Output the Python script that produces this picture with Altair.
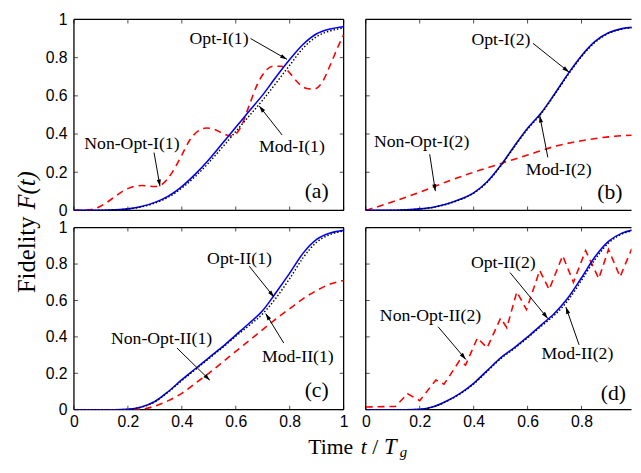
import math
import altair as alt
import pandas as pd

# ---------------- data ----------------
T = [0, 0.05, 0.1, 0.15, 0.2, 0.25, 0.3, 0.35, 0.4, 0.45, 0.5,
     0.55, 0.6, 0.65, 0.7, 0.75, 0.8, 0.85, 0.9, 0.95, 1.0]

a_opt = [0, 0, 0.001, 0.003, 0.008, 0.02, 0.042, 0.075, 0.125, 0.19, 0.265,
         0.35, 0.435, 0.52, 0.605, 0.70, 0.79, 0.87, 0.925, 0.95, 0.962]
a_mod = [0, 0, 0.001, 0.003, 0.007, 0.018, 0.038, 0.069, 0.117, 0.178, 0.25,
         0.33, 0.413, 0.495, 0.578, 0.668, 0.76, 0.85, 0.91, 0.94, 0.955]
a_non_t = [0, .05, .08, .12, .15, .18, .21, .25, .3, .33, .36, .4, .43, .46, .49, .52,
           .55, .58, .6, .62, .65, .68, .71, .74, .77, .8, .83, .86, .89, .92, .95, .98, 1]
a_non = [0, .002, .01, .04, .07, .1, .12, .13, .125, .14, .19, .29, .37, .415, .432, .425,
         .405, .39, .40, .44, .55, .66, .73, .755, .755, .72, .67, .64, .635, .67, .76, .86, .92]

b_opt = [0, 0, 0.001, 0.003, 0.008, 0.017, 0.034, 0.058, 0.092, 0.15, 0.235,
         0.335, 0.43, 0.51, 0.61, 0.715, 0.81, 0.885, 0.93, 0.952, 0.96]
b_mod = [0, 0, 0.001, 0.003, 0.007, 0.016, 0.032, 0.056, 0.09, 0.147, 0.231,
         0.33, 0.425, 0.505, 0.605, 0.71, 0.805, 0.88, 0.927, 0.95, 0.958]
b_non_t = [0, .1, .2, .3, .4, .5, .6, .7, .8, .9, 1]
b_non = [0, .045, .095, .15, .2, .245, .29, .335, .365, .385, .395]

c_opt = [0, 0, 0, 0, 0.002, 0.015, 0.045, 0.1, 0.165, 0.225, 0.285,
         0.345, 0.41, 0.475, 0.545, 0.645, 0.75, 0.86, 0.935, 0.97, 0.985]
c_mod = [0, 0, 0, 0, 0.002, 0.014, 0.043, 0.097, 0.16, 0.22, 0.28,
         0.34, 0.403, 0.463, 0.527, 0.615, 0.72, 0.835, 0.92, 0.962, 0.982]
c_non = [0, 0, 0, 0, 0, 0.003, 0.02, 0.05, 0.09, 0.145, 0.2,
         0.26, 0.32, 0.38, 0.44, 0.5, 0.555, 0.61, 0.655, 0.69, 0.71]

d_opt = [0, 0, 0, 0, 0.002, 0.016, 0.048, 0.09, 0.145, 0.215, 0.285,
         0.34, 0.4, 0.465, 0.53, 0.615, 0.725, 0.84, 0.925, 0.97, 0.99]
d_mod = [0, 0, 0, 0, 0.002, 0.015, 0.046, 0.087, 0.141, 0.21, 0.28,
         0.335, 0.395, 0.458, 0.52, 0.6, 0.71, 0.825, 0.915, 0.965, 0.985]
d_non_t = [0, .11, .155, .2, .26, .29, .347, .37, .414, .45, .5, .523,
           .56, .596, .645, .68, .73, .77, .815, .864, .9, .943, .985, 1]
d_non = [.015, .018, .088, .05, .163, .14, .268, .245, .394, .34, .503, .45,
         .647, .55, .765, .66, .846, .70, .874, .72, .88, .73, .88, .86]

tick_vals = [0, 0.2, 0.4, 0.6, 0.8, 1.0]

# annotations: label, text x/y, arrow tail x/y, arrow tip x/y (data units)
ann_a = [("Opt-I(1)", 0.538, 0.896, 0.655, 0.90, 0.790, 0.791),
         ("Mod-I(1)", 0.808, 0.333, 0.772, 0.395, 0.687, 0.547),
         ("Non-Opt-I(1)", 0.215, 0.348, 0.297, 0.303, 0.319, 0.126)]
ann_b = [("Opt-I(2)", 0.501, 0.894, 0.620, 0.875, 0.754, 0.724),
         ("Mod-I(2)", 0.715, 0.212, 0.675, 0.278, 0.645, 0.496),
         ("Non-Opt-I(2)", 0.207, 0.359, 0.237, 0.294, 0.258, 0.101)]
ann_c = [("Opt-II(1)", 0.614, 0.827, 0.650, 0.788, 0.742, 0.618),
         ("Mod-II(1)", 0.830, 0.290, 0.778, 0.366, 0.711, 0.528),
         ("Non-Opt-II(1)", 0.325, 0.387, 0.382, 0.339, 0.504, 0.162)]
ann_d = [("Opt-II(2)", 0.510, 0.807, 0.535, 0.753, 0.675, 0.501),
         ("Mod-II(2)", 0.785, 0.306, 0.791, 0.356, 0.742, 0.564),
         ("Non-Opt-II(2)", 0.240, 0.517, 0.268, 0.456, 0.371, 0.276)]

letters = {"a": ("(a)", 0.90, 0.10), "b": ("(b)", 0.905, 0.096),
           "c": ("(c)", 0.90, 0.106), "d": ("(d)", 0.918, 0.090)}

# ---------------- layout ----------------
W = 274
W_R = 270
H_TOP = 194
H_BOT = 185
ARROW = "M0,0 L0.3,1 L-0.3,1 Z"
SERIF = "Liberation Serif"
SANS = "Liberation Sans"


def panel(key, opt, mod, non_t, non, ann, width, height, show_x, show_y,
          interp_non="monotone", extra=None):
    xmax = width / W
    xs = alt.Scale(domain=[0, xmax], nice=False, zero=False)
    ys = alt.Scale(domain=[0, 1], nice=False, zero=False)
    if show_x:
        xaxis = alt.Axis(values=tick_vals, format="~g", ticks=False, domain=False,
                         grid=False, labelFont=SANS, labelFontSize=16,
                         labelColor="black", labelPadding=4, labelFlush=False,
                         labelOverlap=False, title=None)
    else:
        xaxis = None
    if show_y:
        yaxis = alt.Axis(values=tick_vals, format="~g", ticks=False, domain=False,
                         grid=False, labelFont=SANS, labelFontSize=16,
                         labelColor="black", labelPadding=7, labelFlush=False,
                         labelOverlap=False, title=None)
    else:
        yaxis = None
    X = alt.X("x:Q", scale=xs, axis=xaxis)
    Y = alt.Y("y:Q", scale=ys, axis=yaxis)

    df_opt = pd.DataFrame({"x": T, "y": opt})
    df_mod = pd.DataFrame({"x": T, "y": mod})
    df_non = pd.DataFrame({"x": non_t, "y": non})

    full = xmax >= 0.999
    # frame
    fx = [0, 0, 0]
    fx2 = [xmax, xmax, 0]
    fy = [0, 1, 0]
    fy2 = [0, 1, 1]
    if full:
        fx.append(1); fx2.append(1); fy.append(0); fy2.append(1)
    frame = alt.Chart(pd.DataFrame({"x": fx, "x2": fx2, "y": fy, "y2": fy2})).mark_rule(
        color="black", strokeWidth=1.3).encode(x=X, x2="x2:Q", y=Y, y2="y2:Q")

    xt = pd.DataFrame({"x": [v for v in tick_vals if v <= xmax + 1e-9]})
    yt = pd.DataFrame({"y": tick_vals})
    tb = alt.Chart(xt).mark_tick(orient="vertical", size=4, thickness=1, color="black").encode(
        x=X, y=alt.value(height - 2))
    tt = alt.Chart(xt).mark_tick(orient="vertical", size=4, thickness=1, color="black").encode(
        x=X, y=alt.value(2))
    tl = alt.Chart(yt).mark_tick(orient="horizontal", size=4, thickness=1, color="black").encode(
        y=Y, x=alt.value(2))
    layers = [frame, tb, tt, tl]
    if full:
        tr = alt.Chart(yt).mark_tick(orient="horizontal", size=4, thickness=1, color="black").encode(
            y=Y, x=alt.value(width - 2))
        layers.append(tr)

    red = alt.Chart(df_non).mark_line(color="#ff0000", strokeDash=[7, 5], strokeWidth=1.6,
                                      clip=True, interpolate=interp_non).encode(x=X, y=Y)
    blue = alt.Chart(df_opt).mark_line(color="#0000ff", strokeWidth=1.6, clip=True,
                                       interpolate="monotone").encode(x=X, y=Y)
    black = alt.Chart(df_mod).mark_line(color="black", strokeDash=[1.5, 2], strokeWidth=1.4,
                                        clip=True, interpolate="monotone").encode(x=X, y=Y)
    layers += [red, blue, black]

    rows = []
    for lab, tx, ty, ax, ay, px, py in ann:
        dxp = (px - ax) * W
        dyp = -(py - ay) * height
        ang = math.degrees(math.atan2(dxp, -dyp)) % 360
        rows.append({"lab": lab, "tx": tx, "ty": ty, "x": ax, "y": ay,
                     "x2": px, "y2": py, "ang": ang})
    adf = pd.DataFrame(rows)
    arrows = alt.Chart(adf).mark_rule(color="black", strokeWidth=1).encode(
        x=X, y=Y, x2="x2:Q", y2="y2:Q")
    heads = alt.Chart(adf).mark_point(shape=ARROW, filled=True, color="black", opacity=1,
                                      size=196, strokeWidth=0).encode(
        x=alt.X("x2:Q", scale=xs, axis=xaxis), y=alt.Y("y2:Q", scale=ys, axis=yaxis),
        angle=alt.Angle("ang:Q", scale=None))
    texts = alt.Chart(adf).mark_text(font=SERIF, fontSize=18, color="black").encode(
        x=alt.X("tx:Q", scale=xs, axis=xaxis), y=alt.Y("ty:Q", scale=ys, axis=yaxis),
        text="lab:N")
    lt, lx, ly = letters[key]
    letter = alt.Chart(pd.DataFrame({"x": [lx], "y": [ly], "lab": [lt]})).mark_text(
        font=SERIF, fontSize=22, color="black").encode(x=X, y=Y, text="lab:N")
    layers += [arrows, heads, texts, letter]
    if extra:
        layers += extra
    return alt.layer(*layers).properties(width=width, height=height)


one = pd.DataFrame({"k": [0]})
ytitle = [
    alt.Chart(one).mark_text(text="Fidelity", font=SERIF, fontSize=25, angle=270,
                             align="left", baseline="alphabetic", color="black").encode(
        x=alt.value(-40), y=alt.value(278)),
    alt.Chart(one).mark_text(text="F(t)", font=SERIF, fontSize=25, fontStyle="italic",
                             angle=270, align="left", baseline="alphabetic",
                             color="black").encode(x=alt.value(-40), y=alt.value(193)),
]
xtitle = [
    alt.Chart(one).mark_text(text="Time", font=SERIF, fontSize=22, align="left",
                             baseline="alphabetic", color="black").encode(
        x=alt.value(238), y=alt.value(229.5)),
    alt.Chart(one).mark_text(text="t", font=SERIF, fontSize=22, fontStyle="italic",
                             align="left", baseline="alphabetic", color="black").encode(
        x=alt.value(291.5), y=alt.value(229.5)),
    alt.Chart(one).mark_text(text="/", font=SERIF, fontSize=22, align="left",
                             baseline="alphabetic", color="black").encode(
        x=alt.value(303), y=alt.value(229.5)),
    alt.Chart(one).mark_text(text="T", font=SERIF, fontSize=23, fontStyle="italic",
                             align="left", baseline="alphabetic", color="black").encode(
        x=alt.value(315), y=alt.value(229.5)),
    alt.Chart(one).mark_text(text="g", font=SERIF, fontSize=15, fontStyle="italic",
                             align="left", baseline="alphabetic", color="black").encode(
        x=alt.value(331), y=alt.value(233.5)),
]

pa = panel("a", a_opt, a_mod, a_non_t, a_non, ann_a, W, H_TOP, False, True, extra=ytitle)
pb = panel("b", b_opt, b_mod, b_non_t, b_non, ann_b, W_R, H_TOP, False, False)
pc = panel("c", c_opt, c_mod, T, c_non, ann_c, W, H_BOT, True, True, extra=xtitle)
pd_ = panel("d", d_opt, d_mod, d_non_t, d_non, ann_d, W_R, H_BOT, True, False,
            interp_non="linear")

chart = alt.concat(pa, pb, pc, pd_, columns=2, spacing={"row": 17.5, "column": 22.5},
                   bounds="flush").configure_view(stroke=None).properties(
    padding={"left": 7.0, "top": 0, "right": 0, "bottom": 0}, background="white")

chart.save("out.html", embed_options={"renderer": "svg", "actions": False})
